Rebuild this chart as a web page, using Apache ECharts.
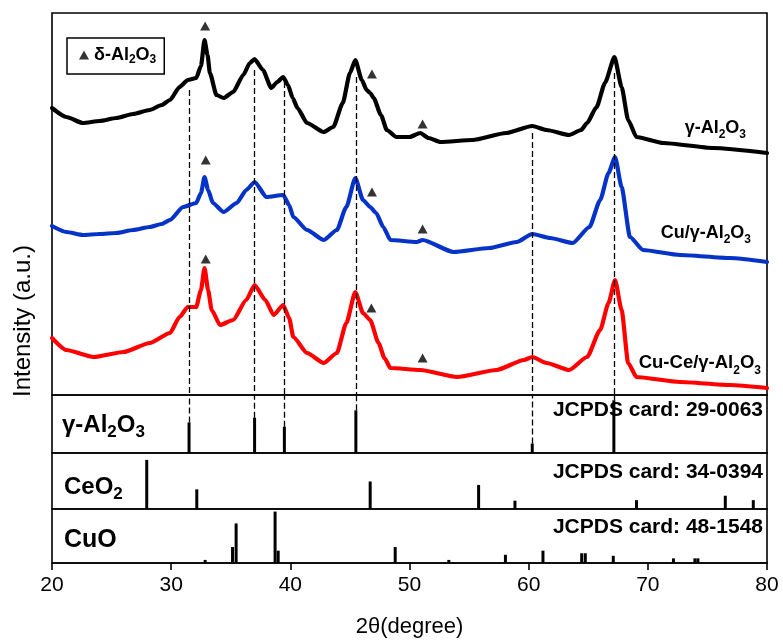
<!DOCTYPE html>
<html><head><meta charset="utf-8">
<script src="https://cdn.jsdelivr.net/npm/echarts@6/dist/echarts.min.js"></script>
<style>html,body{margin:0;padding:0;background:#fff}#c{width:783px;height:642px}</style>
</head><body><div id="c"></div><script>
// ---- data (2θ in degrees, intensity in a.u.) ----
const xTicks = [20, 30, 40, 50, 60, 70, 80];

const gammaX = [20.0,21.2,22.6,24.0,25.4,26.8,28.2,29.2,29.9,30.7,31.4,32.1,32.5,32.8,33.05,33.25,33.8,34.4,35.2,36.05,36.6,37.0,37.7,38.4,38.9,39.4,39.8,40.2,40.6,41.4,42.8,43.6,44.4,45.0,45.45,46.0,46.4,46.7,47.0,47.6,48.1,48.9,50.0,50.9,51.6,52.6,55.3,58.1,60.3,61.5,63.4,64.4,64.9,65.7,66.4,67.2,67.8,68.35,69.05,71.3,75.5,80];
const gammaY = [287,278,272,274,277,281,285,290,295,308,315,317,329,355,340,322,300,297,303,320,332,336,325,307,313,318,310,297,287,272,263,268,292,322,335,315,305,302,297,280,265,258,258,262,257,253,255,262,269,265,260,265,272,288,312,338,308,275,258,252,247,242];

const cuX = [20.0,21.2,22.6,24.0,25.4,26.8,28.2,29.2,29.9,31.0,32.1,32.5,32.8,33.1,33.5,34.4,35.5,36.3,37.0,38.0,39.4,39.9,40.25,41.4,42.8,43.9,44.7,45.45,46.1,46.7,47.2,47.8,48.4,50.6,51.1,53.7,56.7,59.0,60.3,61.8,63.7,65.1,66.0,66.7,67.25,67.8,68.5,69.6,72.7,76.9,80];
const cuY = [169,163,160,161,162,165,168,171,175,188,192,202,218,205,192,183,192,205,213,198,200,190,178,165,155,165,188,217,195,188,182,168,155,153,155,143,147,153,161,157,152,168,195,222,238,208,158,145,140,137,133];

const cuceX = [20.0,21.2,23.5,26.0,28.2,29.9,30.7,31.4,32.1,32.5,32.8,33.1,33.4,34.1,35.2,36.3,37.0,37.9,38.6,39.4,39.9,40.25,41.4,42.8,43.9,44.7,45.45,46.1,46.7,47.4,47.9,48.4,50.9,54.0,57.3,59.6,60.3,61.5,63.4,64.9,66.0,66.7,67.25,67.8,68.35,69.05,72.7,76.9,80];
const cuceY = [57,45,38,43,52,62,78,88,88,105,127,105,85,70,75,95,110,95,80,90,77,58,42,32,42,72,103,82,75,52,37,27,25,18,25,35,38,32,25,38,65,92,115,85,32,18,13,10,7];

const deltaX = [32.85,46.85,51.1, 32.9,46.85,51.1, 32.9,46.8,51.1];
const deltaY = [369,321,271, 235,203,166, 136,87,37];

const dashX = [31.5,37.0,39.5,45.5,60.3,67.15];
const dashTop = [305,325,313,318,262,322];

const refGammaX = [31.5,37.0,39.5,45.5,60.3,67.15];
const refGammaI = [58,67,50,81,18,100];
const refCeO2X = [27.95,32.15,46.7,55.8,58.85,69.05,76.5,78.85];
const refCeO2I = [100,40,56,49,17,18,27,18];
const refCuOX = [32.85,35.15,35.45,38.72,38.98,48.8,53.3,58.05,61.2,64.45,64.75,67.1,72.15,73.95,74.2];
const refCuOI = [6,31,77,100,24,31,6,16,24,19,19,14,9,9,9];

// ---- chart ----
const FF = 'Liberation Sans, Arial, sans-serif';
const zip = (a, b) => a.map((v, i) => [v, b[i]]);
const chart = echarts.init(document.getElementById('c'), null, {renderer: 'canvas'});

const gridBase = {left: 52, right: 16, show: true, borderColor: '#000', borderWidth: 1.6, backgroundColor: 'transparent'};
const grids = [
  Object.assign({top: 13, height: 382}, gridBase),
  Object.assign({top: 395, height: 58}, gridBase),
  Object.assign({top: 453, height: 56}, gridBase),
  Object.assign({top: 509, height: 54}, gridBase)
];
const yMax = [382, 110, 114, 105];

const xAxes = grids.map((g, i) => ({
  type: 'value', gridIndex: i, min: xTicks[0], max: xTicks[xTicks.length - 1], interval: 10,
  splitLine: {show: false},
  axisLine: {show: i === 3, onZero: false, lineStyle: {color: '#000', width: 1.6}},
  axisTick: {show: i === 3, inside: false, length: 7, lineStyle: {color: '#000', width: 1.6}},
  axisLabel: {show: i === 3, color: '#000', fontSize: 21, fontFamily: FF, margin: 12},
  name: i === 3 ? '2θ(degree)' : '', nameLocation: 'middle', nameGap: 53,
  nameTextStyle: {color: '#000', fontSize: 22, fontFamily: FF}
}));
const yAxes = grids.map((g, i) => ({type: 'value', gridIndex: i, min: 0, max: yMax[i], show: false}));

const dashStyle = {color: '#000', width: 1.3, type: [6, 3]};
const lineS = (name, xs, ys, color) => ({
  type: 'line', name, xAxisIndex: 0, yAxisIndex: 0, data: zip(xs, ys),
  showSymbol: false, symbol: 'none', smooth: 0.2, smoothMonotone: 'x',
  lineStyle: {color, width: 4.2, join: 'round', cap: 'round'}, itemStyle: {color}, silent: true, z: 2
});
const barS = (xs, is, idx, extra) => Object.assign({
  type: 'bar', xAxisIndex: idx, yAxisIndex: idx, data: zip(xs, is),
  barWidth: 3, itemStyle: {color: '#000'}, silent: true
}, extra || {});

const series = [
  lineS('γ-Al2O3', gammaX, gammaY, '#000000'),
  lineS('Cu/γ-Al2O3', cuX, cuY, '#0533c8'),
  lineS('Cu-Ce/γ-Al2O3', cuceX, cuceY, '#ff0000'),
  {
    type: 'line', name: 'guides', xAxisIndex: 0, yAxisIndex: 0, data: [], silent: true, z: 3,
    markLine: {silent: true, symbol: 'none', animation: false, label: {show: false}, lineStyle: dashStyle,
      data: dashX.map((x, i) => [{coord: [x, dashTop[i]]}, {coord: [x, 0]}])}
  },
  {
    type: 'scatter', name: 'δ-Al2O3', xAxisIndex: 0, yAxisIndex: 0, data: zip(deltaX, deltaY),
    symbol: 'triangle', symbolSize: [10, 9], itemStyle: {color: '#000'}, silent: true, z: 4
  },
  barS(refGammaX, refGammaI, 1, {
    markLine: {silent: true, symbol: 'none', animation: false, label: {show: false}, lineStyle: dashStyle,
      data: refGammaX.map((x, i) => [{coord: [x, refGammaI[i]]}, {coord: [x, yMax[1]]}])}
  }),
  barS(refCeO2X, refCeO2I, 2),
  barS(refCuOX, refCuOI, 3)
];

const sub = (size) => ({fontSize: size, fontWeight: 'bold', fontFamily: FF, lineHeight: size, verticalAlign: 'bottom', fill: '#000', color: '#000'});
const base = (size, lh) => ({fontSize: size, fontWeight: 'bold', fontFamily: FF, lineHeight: lh, verticalAlign: 'middle', fill: '#000', color: '#000'});
const richText = (x, y, text, size, subSize, align) => ({
  type: 'text', x, y, silent: true, z: 10,
  style: {text, align, verticalAlign: 'middle', fill: '#000', font: 'bold ' + size + 'px ' + FF,
    rich: {a: base(size, size + 8), s: sub(subSize)}}
});
const plainBold = (x, y, text) => ({type: 'text', x, y, silent: true, z: 10,
  style: {text, align: 'right', verticalAlign: 'middle', fill: '#000', font: 'bold 21px ' + FF}});

const option = {
  animation: false,
  backgroundColor: '#fff',
  grid: grids,
  xAxis: xAxes,
  yAxis: yAxes,
  legend: {
    data: [{name: 'δ-Al2O3', icon: 'triangle'}],
    left: 67, top: 38, orient: 'horizontal',
    itemWidth: 10, itemHeight: 9, itemGap: 6,
    borderColor: '#000', borderWidth: 1.5, padding: [8, 8, 8, 12],
    selectedMode: false,
    formatter: () => '{a|δ-Al}{s|2}{a|O}{s|3}',
    textStyle: {color: '#000', fontFamily: FF, fontWeight: 'bold', fontSize: 18,
      rich: {a: base(18, 22), s: sub(12)}},
    itemStyle: {color: '#000'}
  },
  graphic: [
    richText(746, 128, '{a|γ-Al}{s|2}{a|O}{s|3}', 18, 12, 'right'),
    richText(751, 233, '{a|Cu/γ-Al}{s|2}{a|O}{s|3}', 18, 12, 'right'),
    richText(761, 363, '{a|Cu-Ce/γ-Al}{s|2}{a|O}{s|3}', 18.5, 12, 'right'),
    richText(62, 425, '{a|γ-Al}{s|2}{a|O}{s|3}', 24, 17, 'left'),
    richText(64, 487, '{a|CeO}{s|2}', 24, 17, 'left'),
    richText(64, 540, '{a|CuO}', 25, 17, 'left'),
    plainBold(763, 410, 'JCPDS card: 29-0063'),
    plainBold(763, 472, 'JCPDS card: 34-0394'),
    plainBold(763, 527, 'JCPDS card: 48-1548'),
    {type: 'text', x: 23, y: 321, rotation: Math.PI / 2, silent: true, z: 10, style: {text: 'Intensity (a.u.)', align: 'center', verticalAlign: 'middle', fill: '#000', font: '24px ' + FF}}
  ],
  series
};
chart.setOption(option);
</script></body></html>
